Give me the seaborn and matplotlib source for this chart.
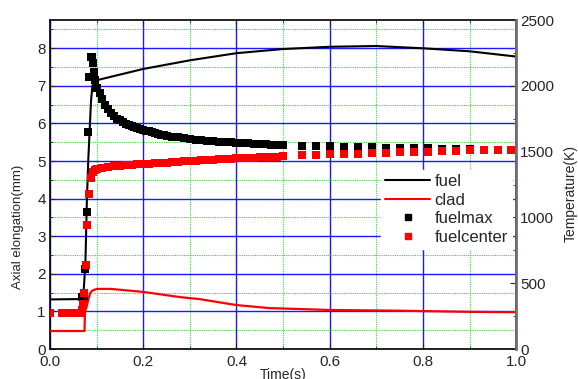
import numpy as np
import pandas as pd
import matplotlib
matplotlib.use("Agg")
import matplotlib.pyplot as plt
from matplotlib.ticker import MultipleLocator
from matplotlib.lines import Line2D
import seaborn as sns

# ---- data ----
# axial elongation lines (mm)
fuel_t = [0.0, 0.065, 0.072, 0.076, 0.079, 0.082, 0.085, 0.088, 0.091, 0.095, 0.1,
          0.2, 0.3, 0.4, 0.5, 0.6, 0.7, 0.8, 0.9, 1.0]
fuel_mm = [1.32, 1.33, 1.5, 2.3, 3.9, 5.0, 5.8, 6.6, 7.0, 7.1, 7.15,
           7.45, 7.68, 7.87, 7.98, 8.04, 8.06, 8.0, 7.92, 7.78]
clad_t = [0.0, 0.074, 0.075, 0.078, 0.082, 0.086, 0.09, 0.1, 0.13, 0.2, 0.28,
          0.32, 0.4, 0.47, 0.6, 0.75, 0.9, 1.0]
clad_mm = [0.48, 0.48, 1.0, 1.1, 1.3, 1.48, 1.55, 1.6, 1.6, 1.52, 1.38,
           1.33, 1.17, 1.09, 1.04, 1.02, 0.99, 0.98]

# temperatures (K)
early_t = [0.0, 0.025, 0.03, 0.035, 0.04, 0.045, 0.05, 0.055, 0.06, 0.065]
sparse_t = [0.54, 0.57, 0.60, 0.63, 0.66, 0.69, 0.72, 0.75, 0.78, 0.81, 0.84,
            0.87, 0.90, 0.93, 0.96, 0.99]

# fuelmax
fuelmax_early_K = [277, 277, 277, 277, 277, 277, 277, 277, 277, 277]
fuelmax_rise_t = [0.069, 0.073, 0.075, 0.079, 0.081, 0.084, 0.088, 0.090, 0.092, 0.094, 0.097]
fuelmax_rise_K = [394, 394, 609, 1040, 1649, 2066, 2220, 2220, 2171, 2106, 2043]
fuelmax_dense_t = [0.1, 0.10625, 0.1125, 0.11875, 0.125, 0.13125, 0.1375, 0.14375,
                   0.15, 0.15625, 0.1625, 0.16875, 0.175, 0.18125, 0.1875, 0.19375,
                   0.2, 0.20625, 0.2125, 0.21875, 0.225, 0.23125, 0.2375, 0.24375,
                   0.25, 0.2625, 0.275, 0.2875, 0.3, 0.3125, 0.325, 0.3375, 0.35,
                   0.3625, 0.375, 0.3875, 0.4, 0.4125, 0.425, 0.4375, 0.45, 0.4625,
                   0.475, 0.4875, 0.5]
fuelmax_dense_K = [1983, 1943, 1900, 1857, 1823, 1794, 1771, 1751,
                   1737, 1726, 1714, 1703, 1694, 1686, 1680, 1671,
                   1666, 1660, 1654, 1646, 1640, 1631, 1626, 1623,
                   1620, 1614, 1609, 1603, 1597, 1591, 1589, 1583, 1580,
                   1577, 1574, 1571, 1569, 1566, 1563, 1560, 1557, 1557,
                   1554, 1554, 1551]
fuelmax_sparse_K = [1546, 1543, 1540, 1537, 1534, 1534, 1531, 1529, 1529, 1526,
                    1523, 1520, 1517, 1514, 1514, 1511]

# fuelcenter
center_early_K = [277, 277, 277, 277, 277, 277, 277, 277, 277, 277]
center_rise_t = [0.068, 0.071, 0.073, 0.077, 0.079, 0.084, 0.088, 0.093, 0.097]
center_rise_K = [300, 343, 429, 637, 943, 1180, 1300, 1349, 1360]
center_dense_t = [0.1, 0.1125, 0.125, 0.1375, 0.15, 0.1625, 0.175, 0.1875, 0.2, 0.2125,
                  0.225, 0.2375, 0.25, 0.2625, 0.275, 0.2875, 0.3, 0.3125, 0.325, 0.3375,
                  0.35, 0.3625, 0.375, 0.3875, 0.4, 0.4125, 0.425, 0.4375, 0.45, 0.4625,
                  0.475, 0.4875, 0.5]
center_dense_K = [1366, 1377, 1383, 1389, 1391, 1397, 1400, 1403, 1406, 1409,
                  1411, 1414, 1417, 1420, 1423, 1426, 1429, 1431, 1434, 1437,
                  1440, 1443, 1446, 1446, 1449, 1451, 1454, 1454, 1457, 1460,
                  1460, 1463, 1466]
center_sparse_K = [1474, 1477, 1480, 1483, 1486, 1489, 1491, 1494, 1497, 1500,
                   1503, 1506, 1509, 1509, 1511, 1511]

x_ticks = [0.0, 0.2, 0.4, 0.6, 0.8, 1.0]
x_tick_labels = ["0.0", "0.2", "0.4", "0.6", "0.8", "1.0"]
legend_labels = ["fuel", "clad", "fuelmax", "fuelcenter"]

# ---- build frames ----
fuelmax = pd.DataFrame({
    "t": early_t + fuelmax_rise_t + fuelmax_dense_t + sparse_t,
    "T": fuelmax_early_K + fuelmax_rise_K + fuelmax_dense_K + fuelmax_sparse_K})
center = pd.DataFrame({
    "t": early_t + center_rise_t + center_dense_t + sparse_t,
    "T": center_early_K + center_rise_K + center_dense_K + center_sparse_K})
fuel = pd.DataFrame({"t": fuel_t, "v": fuel_mm})
clad = pd.DataFrame({"t": clad_t, "v": clad_mm})

sns.set_style("ticks")
plt.rcParams["font.family"] = ["Liberation Sans", "DejaVu Sans"]

fig = plt.figure(figsize=(5.78, 3.79), dpi=100)
ax = fig.add_axes([0.0865, 0.079, 0.8065, 0.868])
ax2 = ax.twinx()

ax.set_xlim(0, 1.0)
ax.set_ylim(0, 8.75)
ax.xaxis.set_major_locator(MultipleLocator(0.2))
ax.xaxis.set_minor_locator(MultipleLocator(0.1))
ax.yaxis.set_major_locator(MultipleLocator(1))
ax.yaxis.set_minor_locator(MultipleLocator(0.5))
ax.grid(which="major", color="#1a1aff", lw=1.0, ls="-")
ax.grid(which="minor", color="#33e033", lw=0.8, ls=(0, (1, 1)))
ax.set_axisbelow(True)

sns.lineplot(data=fuel, x="t", y="v", ax=ax, color="black", lw=1.5, zorder=3)
sns.lineplot(data=clad, x="t", y="v", ax=ax, color="#ff0000", lw=1.6, zorder=3)

ax2.set_ylim(0, 2500)
ax2.yaxis.set_major_locator(MultipleLocator(500))
ax2.yaxis.set_minor_locator(MultipleLocator(250))
sns.scatterplot(data=fuelmax, x="t", y="T", ax=ax2, color="black", marker="s",
                s=26, linewidth=0, zorder=4)
sns.scatterplot(data=center, x="t", y="T", ax=ax2, color="#ff0000", marker="s",
                s=26, linewidth=0, zorder=5)

for a in (ax, ax2):
    a.tick_params(which="both", direction="in", labelsize=11, top=True)
    a.tick_params(which="major", length=4)
    a.tick_params(which="minor", length=2)
ax.tick_params(axis="x", pad=4.5)
ax.tick_params(axis="y", pad=3)
ax2.tick_params(axis="y", pad=3)
ax.set_xticks(x_ticks)
ax.set_xticklabels(x_tick_labels)
ax.set_yticks(range(0, 9))
ax.set_xlabel("Time(s)", fontsize=10)
ax.set_ylabel("Axial elongation(mm)", fontsize=9.5)
ax2.set_ylabel("Temperature(K)", fontsize=10)
ax2.set_xlabel("")
ax.xaxis.set_label_coords(0.5, -0.058)
ax.yaxis.set_label_coords(-0.056, 0.37)
ax2.yaxis.set_label_coords(1.103, 0.474)

for sp in ax.spines.values():
    sp.set_color("black")
    sp.set_linewidth(1.2)
ax2.spines["right"].set_color("#707070")
ax2.spines["right"].set_linewidth(2.0)
ax2.spines["left"].set_visible(False)
ax2.spines["top"].set_visible(False)
ax2.spines["bottom"].set_visible(False)

handles = [Line2D([], [], color="black", lw=1.5),
           Line2D([], [], color="#ff0000", lw=1.5),
           Line2D([], [], color="black", marker="s", ls="none", markersize=5),
           Line2D([], [], color="#ff0000", marker="s", ls="none", markersize=5)]
leg = ax2.legend(handles, legend_labels,
                 loc="upper left", bbox_to_anchor=(0.71, 0.545), frameon=True,
                 fancybox=False, edgecolor="white", facecolor="white",
                 framealpha=1, fontsize=12, handlelength=2.7,
                 handletextpad=0.25, labelspacing=0.22, borderpad=0.25,
                 borderaxespad=0.0)
leg.set_zorder(10)

fig.savefig("out.png", dpi=100)
